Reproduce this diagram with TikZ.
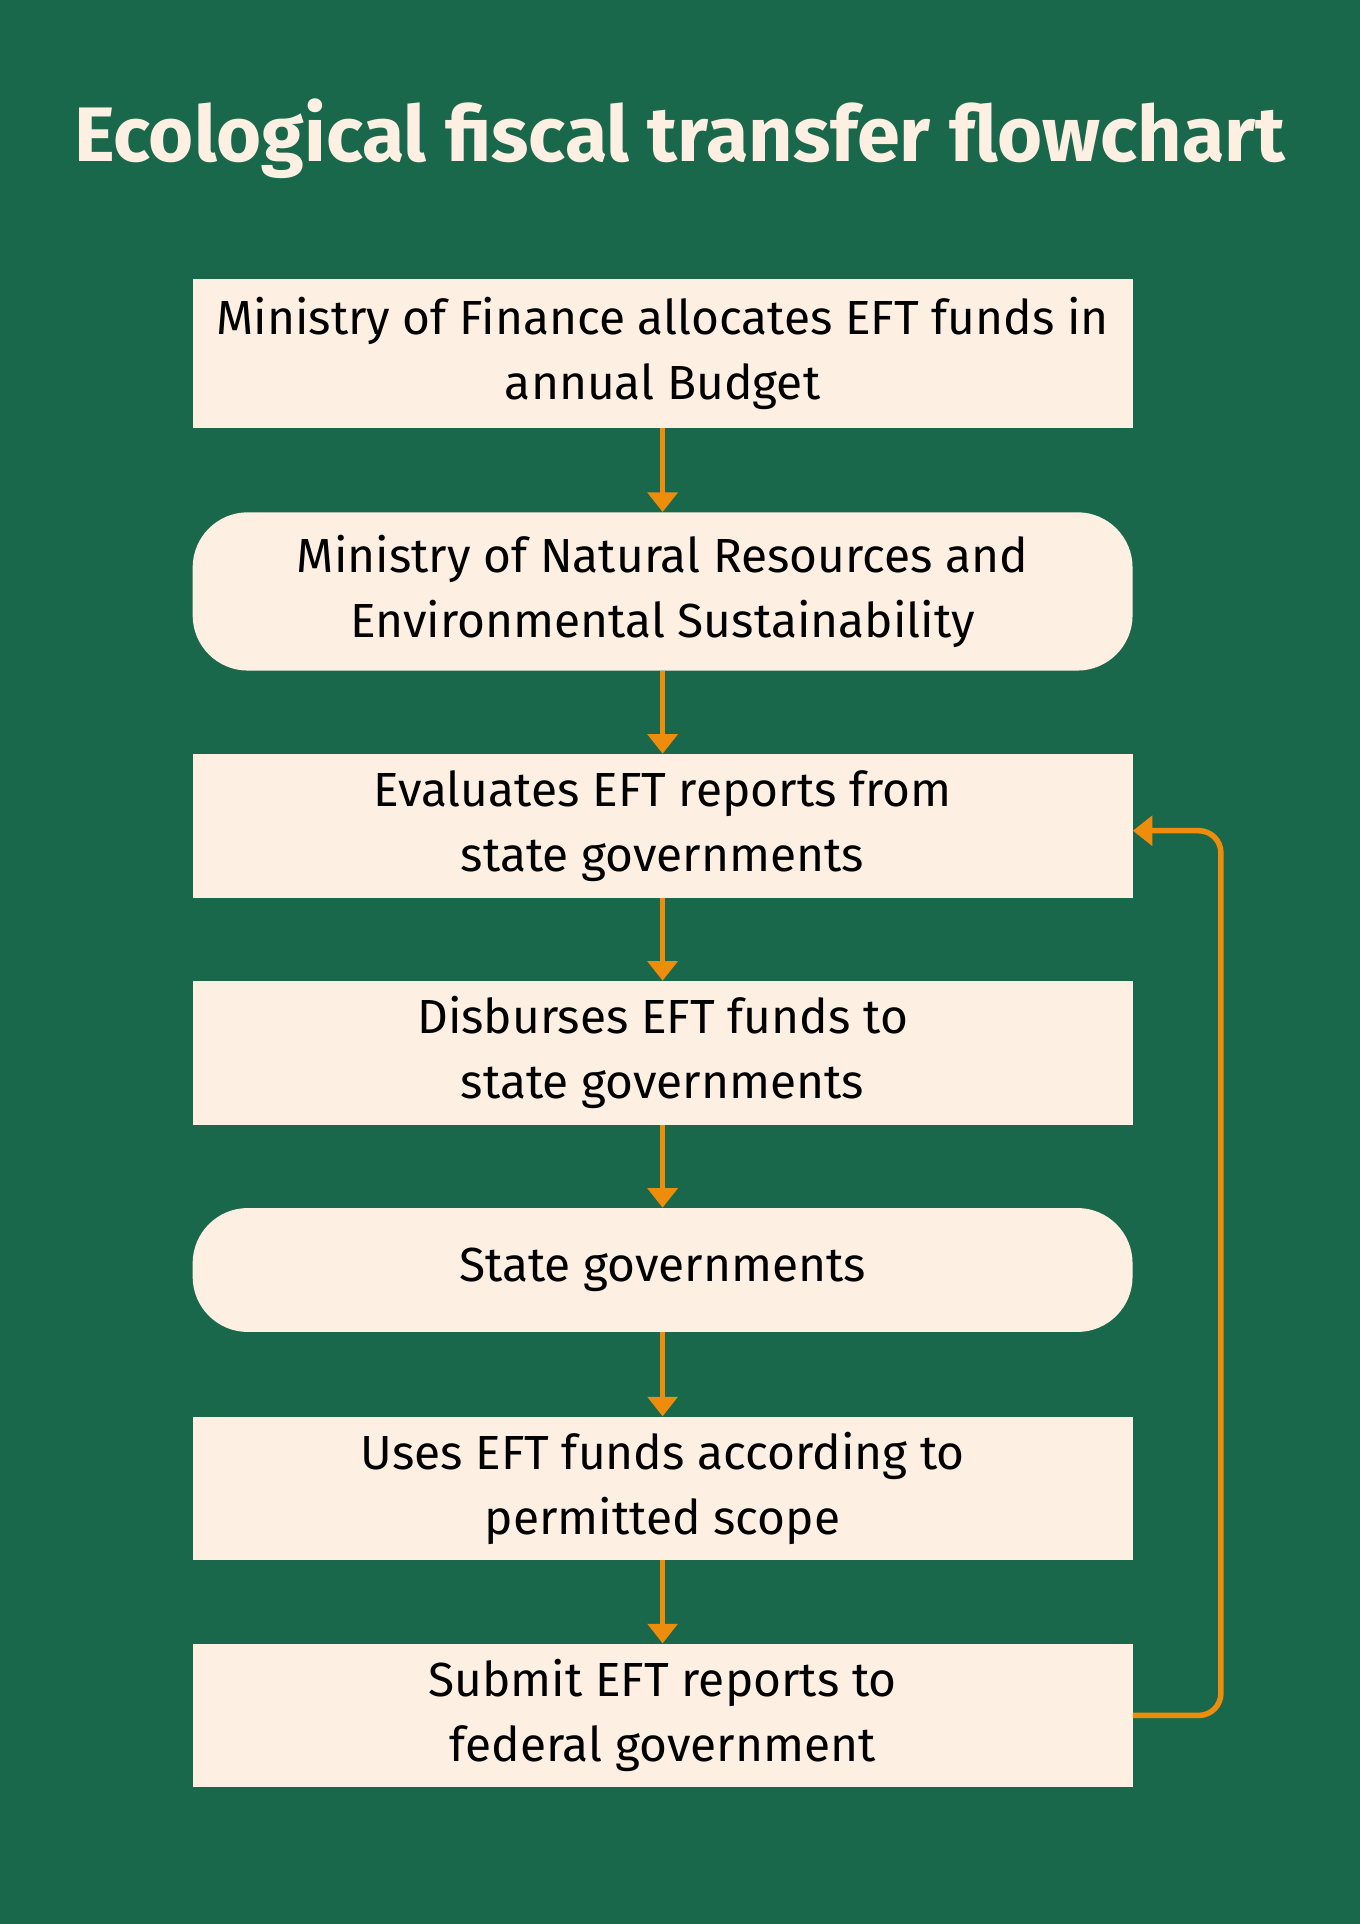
\documentclass[tikz,border=0pt]{standalone}
\usepackage{fontspec}
\setmainfont{Fira Sans}
\usetikzlibrary{positioning,arrows.meta}
\definecolor{bggreen}{HTML}{1A684C}
\definecolor{cream}{HTML}{FDF0E3}
\definecolor{arrorange}{HTML}{EE8C0B}
\begin{document}
\begin{tikzpicture}[
    x=1pt, y=-1pt,
    stepbox/.style={fill=cream, minimum width=766pt, align=center, inner sep=0pt,
        font=\fontsize{39}{53}\selectfont},
    roundbox/.style={stepbox, rounded corners=45pt},
    flow/.style={draw=arrorange, line width=4.5pt, -{Triangle[length=16pt,width=24pt]}}
]
\fill[bggreen] (0,0) rectangle (1108,1568);
\useasboundingbox (0,0) rectangle (1108,1568);

\node[text=cream, font=\fontsize{63}{68}\selectfont\bfseries] (title) at (554,113) {Ecological fiscal transfer flowchart};

% Boxes
\node[stepbox, minimum height=122pt] (s1) at (540,288) {Ministry of Finance allocates EFT funds in\\annual Budget};
\node[roundbox, minimum height=129pt] (s2) at (540,482) {Ministry of Natural Resources and\\Environmental Sustainability};
\node[stepbox, minimum height=117pt] (s3) at (540,673) {Evaluates EFT reports from\\state governments};
\node[stepbox, minimum height=117pt] (s4) at (540,858) {Disburses EFT funds to\\state governments};
\node[roundbox, minimum height=101pt] (s5) at (540,1035) {State governments};
\node[stepbox, minimum height=117pt] (s6) at (540,1213) {Uses EFT funds according to\\permitted scope};
\node[stepbox, minimum height=117pt] (s7) at (540,1398) {Submit EFT reports to\\federal government};

% Arrows
\foreach \a/\b in {s1/s2, s2/s3, s3/s4, s4/s5, s5/s6, s6/s7}
    \draw[flow] (\a.south) -- (\b.north);

% Feedback loop
\coordinate (loopx) at (995,0);
\draw[flow, rounded corners=18pt] (s7.east) -- (s7.east -| loopx) -- ([yshift=-4pt]s3.east -| loopx) -- ([yshift=-4pt]s3.east);
\end{tikzpicture}
\end{document}
